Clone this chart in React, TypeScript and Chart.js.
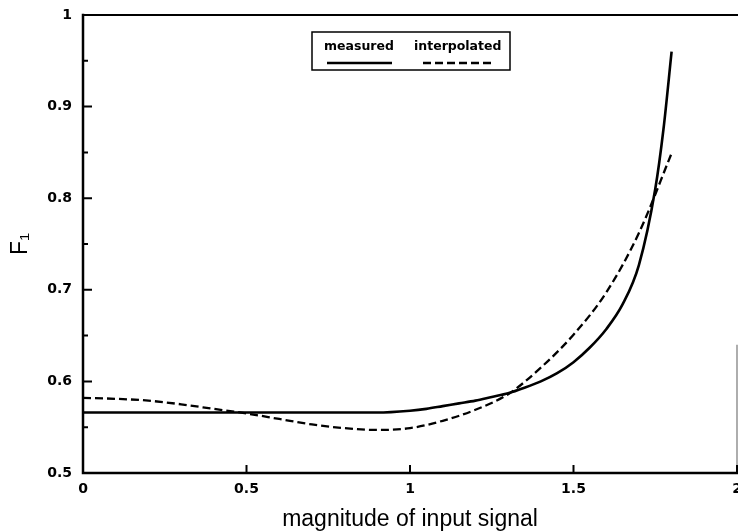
import { useEffect, useRef } from "react";
import { Chart, registerables } from "chart.js";

Chart.register(...registerables);

// ---- data ----
const seriesLabels = ["measured", "interpolated"];

const measuredX = [0, 0.1, 0.2, 0.3, 0.4, 0.5, 0.6, 0.7, 0.8, 0.9, 1.0, 1.05, 1.1, 1.15, 1.2, 1.25, 1.3, 1.35, 1.4, 1.45, 1.5, 1.55, 1.6, 1.65, 1.7, 1.75, 1.775, 1.8];
const measuredY = [0.566, 0.566, 0.566, 0.566, 0.566, 0.566, 0.566, 0.566, 0.566, 0.566, 0.568, 0.570, 0.573, 0.576, 0.579, 0.583, 0.587, 0.593, 0.600, 0.609, 0.621, 0.637, 0.657, 0.684, 0.727, 0.81, 0.875, 0.96];

const interpX = [0, 0.1, 0.2, 0.3, 0.4, 0.5, 0.6, 0.7, 0.8, 0.9, 1.0, 1.1, 1.2, 1.3, 1.4, 1.5, 1.6, 1.7, 1.8];
const interpY = [0.582, 0.581, 0.579, 0.575, 0.570, 0.565, 0.559, 0.553, 0.549, 0.547, 0.549, 0.557, 0.569, 0.586, 0.615, 0.651, 0.697, 0.762, 0.849];

const xTicks = [0, 0.5, 1, 1.5, 2];
const yTicks = [0.5, 0.6, 0.7, 0.8, 0.9, 1];
const yMinorTicks = [0.55, 0.65, 0.75, 0.85, 0.95];

const xTitle = "magnitude of input signal";
const yTitle = "F\u2081";

const TICK_FONT = "'DejaVu Sans', 'Liberation Sans', sans-serif";
const TITLE_FONT = "'Liberation Sans', 'DejaVu Sans', sans-serif";

const frameAndTicks = {
  id: "frameAndTicks",
  afterDatasetsDraw(chart: any) {
    const { ctx, chartArea: a, scales } = chart;
    const xs = scales.x;
    const ys = scales.y;
    ctx.save();
    ctx.strokeStyle = "#000";
    ctx.lineCap = "square";
    ctx.lineWidth = 2.5;
    ctx.beginPath();
    ctx.moveTo(a.left, a.top);
    ctx.lineTo(a.left, a.bottom);
    ctx.lineTo(a.right, a.bottom);
    ctx.stroke();
    ctx.lineWidth = 2;
    ctx.beginPath();
    ctx.moveTo(a.left, a.top);
    ctx.lineTo(a.right, a.top);
    ctx.stroke();
    // faint right edge (only lower part visible in the scan)
    ctx.lineCap = "butt";
    ctx.strokeStyle = "#777";
    ctx.lineWidth = 1.2;
    ctx.beginPath();
    ctx.moveTo(a.right, ys.getPixelForValue(0.64));
    ctx.lineTo(a.right, a.bottom);
    ctx.stroke();
    // inward ticks
    ctx.strokeStyle = "#000";
    ctx.lineWidth = 2;
    ctx.beginPath();
    for (const v of yTicks) {
      const py = ys.getPixelForValue(v);
      ctx.moveTo(a.left, py);
      ctx.lineTo(a.left + 9, py);
    }
    for (const v of yMinorTicks) {
      const py = ys.getPixelForValue(v);
      ctx.moveTo(a.left, py);
      ctx.lineTo(a.left + 5, py);
    }
    for (const v of xTicks) {
      const px = xs.getPixelForValue(v);
      ctx.moveTo(px, a.bottom);
      ctx.lineTo(px, a.bottom - 8);
    }
    ctx.stroke();
    ctx.restore();
  },
};

const boxLegend = {
  id: "boxLegend",
  afterDraw(chart: any) {
    const { ctx, chartArea: a } = chart;
    const left = a.left + 229;
    const top = a.top + 17;
    const w = 198;
    const h = 38;
    ctx.save();
    ctx.strokeStyle = "#000";
    ctx.lineWidth = 1.5;
    ctx.strokeRect(left, top, w, h);
    ctx.fillStyle = "#000";
    ctx.font = `bold 12.5px ${TICK_FONT}`;
    ctx.textBaseline = "middle";
    ctx.textAlign = "left";
    const items = chart.data.datasets;
    const textX = [left + 12, left + 102];
    const lineX = [[left + 15, left + 80], [left + 111, left + 181]];
    items.forEach((ds: any, i: number) => {
      ctx.fillText(ds.label, textX[i], top + 15);
      ctx.beginPath();
      ctx.lineWidth = ds.borderWidth;
      ctx.setLineDash(ds.borderDash || []);
      ctx.moveTo(lineX[i][0], top + 31);
      ctx.lineTo(lineX[i][1], top + 31);
      ctx.stroke();
    });
    ctx.restore();
  },
};

export default function App() {
  const ref = useRef<HTMLCanvasElement | null>(null);

  useEffect(() => {
    if (!ref.current) return;
    const chart = new Chart(ref.current, {
      type: "line",
      data: {
        datasets: [
          {
            label: seriesLabels[0],
            data: measuredX.map((x, i) => ({ x, y: measuredY[i] })),
            borderColor: "#000",
            borderWidth: 2.6,
            pointRadius: 0,
            fill: false,
            cubicInterpolationMode: "monotone",
          },
          {
            label: seriesLabels[1],
            data: interpX.map((x, i) => ({ x, y: interpY[i] })),
            borderColor: "#000",
            borderWidth: 2.3,
            borderDash: [8, 4],
            pointRadius: 0,
            fill: false,
            cubicInterpolationMode: "monotone",
          },
        ],
      },
      options: {
        responsive: false,
        animation: false,
        events: [],
        layout: { padding: { top: 15, right: 1, bottom: 0, left: 0 } },
        plugins: {
          legend: { display: false },
          tooltip: { enabled: false },
        },
        scales: {
          x: {
            type: "linear",
            min: 0,
            max: 2,
            afterBuildTicks: (s: any) => {
              s.ticks = xTicks.map((v) => ({ value: v }));
            },
            afterFit: (s: any) => {
              s.height = 58;
              s.paddingLeft = 0;
              s.paddingRight = 0;
            },
            grid: { display: false, drawTicks: false },
            border: { display: false },
            ticks: {
              color: "#000",
              padding: 8,
              maxRotation: 0,
              font: { family: TICK_FONT, size: 14, weight: "bold" },
              callback: (v: any) => String(v),
            },
            title: {
              display: true,
              text: xTitle,
              color: "#000",
              font: { family: TITLE_FONT, size: 23, lineHeight: 1 },
              padding: { top: 0, bottom: 0 },
            },
          },
          y: {
            type: "linear",
            min: 0.5,
            max: 1,
            afterBuildTicks: (s: any) => {
              s.ticks = yTicks.map((v) => ({ value: v }));
            },
            afterFit: (s: any) => {
              s.width = 83;
              s.paddingTop = 0;
              s.paddingBottom = 0;
            },
            grid: { display: false, drawTicks: false },
            border: { display: false },
            ticks: {
              color: "#000",
              padding: 11,
              font: { family: TICK_FONT, size: 14, weight: "bold" },
              callback: (v: any) => String(v),
            },
            title: {
              display: true,
              text: yTitle,
              color: "#000",
              font: { family: TITLE_FONT, size: 23, lineHeight: 1 },
              padding: { top: 9, bottom: 0 },
            },
          },
        },
      },
      plugins: [frameAndTicks, boxLegend],
    } as any);
    return () => chart.destroy();
  }, []);

  return (
    <div style={{ position: "fixed", left: 0, top: 0, width: 738, height: 531, background: "#fff" }}>
      <canvas ref={ref} width={738} height={531} style={{ display: "block", width: 738, height: 531 }} />
    </div>
  );
}
